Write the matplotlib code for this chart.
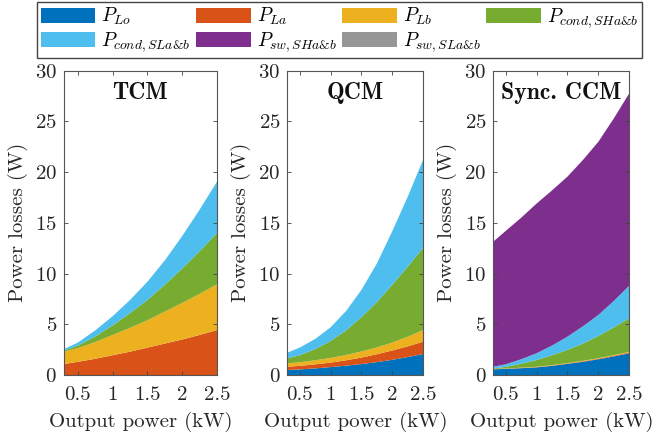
import numpy as np
import matplotlib
matplotlib.use("Agg")
import matplotlib.pyplot as plt
from matplotlib.patches import Patch

plt.rcParams['font.family'] = ['cmr10', 'DejaVu Serif']
plt.rcParams['mathtext.fontset'] = 'cm'
plt.rcParams['axes.unicode_minus'] = False
plt.rcParams['axes.formatter.use_mathtext'] = True

# Output power (kW)
power = [0.3, 0.5, 0.75, 1.0, 1.25, 1.5, 1.75, 2.0, 2.25, 2.5]

series_labels = [r'$P_{Lo}$', r'$P_{La}$', r'$P_{Lb}$', r'$P_{cond,SHa&b}$',
                 r'$P_{cond,SLa&b}$', r'$P_{sw,SHa&b}$', r'$P_{sw,SLa&b}$']
colors = ['#0072BD', '#D95319', '#EDB120', '#77AC30', '#4DBEEE', '#7E2F8E', '#969696']

# Cumulative tops of the stacked areas (W), in stacking order
tcm_Lo       = [0, 0, 0, 0, 0, 0, 0, 0, 0, 0]
tcm_La       = [1.08, 1.3, 1.6, 1.95, 2.3, 2.7, 3.1, 3.5, 3.95, 4.43]
tcm_Lb       = [2.3, 2.65, 3.25, 3.95, 4.65, 5.4, 6.25, 7.1, 8.0, 8.94]
tcm_condSH   = [2.4, 2.9, 3.8, 4.9, 6.1, 7.4, 8.9, 10.5, 12.2, 14.0]
tcm_condSL   = [2.55, 3.2, 4.4, 5.8, 7.4, 9.2, 11.3, 13.7, 16.3, 19.06]
tcm_swSH     = tcm_condSL
tcm_swSL     = tcm_condSL

qcm_Lo       = [0.49, 0.55, 0.65, 0.78, 0.92, 1.08, 1.27, 1.5, 1.77, 2.07]
qcm_La       = [0.82, 0.9, 1.05, 1.22, 1.45, 1.72, 2.05, 2.42, 2.83, 3.29]
qcm_Lb       = [1.15, 1.25, 1.45, 1.68, 1.97, 2.32, 2.72, 3.2, 3.78, 4.43]
qcm_condSH   = [1.64, 1.95, 2.55, 3.35, 4.4, 5.7, 7.2, 8.9, 10.7, 12.56]
qcm_condSL   = [2.2, 2.7, 3.55, 4.7, 6.3, 8.4, 11.0, 14.2, 17.6, 21.27]
qcm_swSH     = qcm_condSL
qcm_swSL     = qcm_condSL

ccm_Lo       = [0.56, 0.6, 0.67, 0.75, 0.9, 1.1, 1.3, 1.55, 1.83, 2.14]
ccm_La       = [0.58, 0.62, 0.69, 0.78, 0.93, 1.14, 1.35, 1.61, 1.9, 2.22]
ccm_Lb       = [0.6, 0.64, 0.72, 0.81, 0.97, 1.18, 1.4, 1.66, 1.96, 2.28]
ccm_condSH   = [0.65, 0.8, 1.1, 1.48, 1.95, 2.47, 3.1, 3.85, 4.7, 5.59]
ccm_condSL   = [0.82, 1.05, 1.55, 2.14, 2.9, 3.78, 4.8, 5.92, 7.3, 8.81]
ccm_swSH     = [13.15, 14.2, 15.5, 16.9, 18.2, 19.56, 21.2, 23.0, 25.3, 27.78]
ccm_swSL     = ccm_swSH

panels = [
    ('TCM', [tcm_Lo, tcm_La, tcm_Lb, tcm_condSH, tcm_condSL, tcm_swSH, tcm_swSL]),
    ('QCM', [qcm_Lo, qcm_La, qcm_Lb, qcm_condSH, qcm_condSL, qcm_swSH, qcm_swSL]),
    ('Sync. CCM', [ccm_Lo, ccm_La, ccm_Lb, ccm_condSH, ccm_condSL, ccm_swSH, ccm_swSL]),
]

x_ticks = [0.5, 1, 1.5, 2, 2.5]
x_tick_labels = ['0.5', '1', '1.5', '2', '2.5']
y_ticks = [0, 5, 10, 15, 20, 25, 30]

W, H = 656, 438
fig = plt.figure(figsize=(W / 100, H / 100), dpi=100)

axes_px = [(64, 153), (287.3, 136), (493.3, 136)]
bottom_px, top_px = 375, 70.7

for (title, cums), (lpx, wpx) in zip(panels, axes_px):
    ax = fig.add_axes([lpx / W, (H - bottom_px) / H, wpx / W, (bottom_px - top_px) / H])
    cum = np.array(cums, dtype=float)
    comps = np.diff(np.vstack([np.zeros(len(power)), cum]), axis=0)
    comps = np.clip(comps, 0, None)
    ax.stackplot(power, comps, colors=colors, linewidth=0)
    ax.set_xlim(0.3, 2.5)
    ax.set_ylim(0, 30)
    ax.set_xticks(x_ticks)
    ax.set_xticklabels(x_tick_labels)
    ax.set_yticks(y_ticks)
    ax.tick_params(direction='in', top=True, right=True, length=3, width=0.6,
                   labelsize=15, colors='#404040', labelcolor='#262626')
    ax.tick_params(axis='x', pad=8)
    ax.tick_params(axis='y', pad=5)
    for s in ax.spines.values():
        s.set_color('#555555')
        s.set_linewidth(0.8)
    ax.set_xlabel('Output power (kW)', fontsize=15, color='#262626', labelpad=6)
    ax.set_ylabel('Power losses (W)', fontsize=15, color='#262626', labelpad=5)
    ax.text(0.5, (bottom_px - 93) / (bottom_px - top_px), title, transform=ax.transAxes,
            ha='center', va='center', fontsize=17, family='cmb10', color='#111111')

# legend filled row by row (matplotlib fills columns first)
order = [0, 4, 1, 5, 2, 6, 3]
handles = [Patch(facecolor=colors[i], edgecolor='none') for i in order]
labels = [series_labels[i] for i in order]
leg = fig.legend(handles, labels, ncol=4, mode='expand',
                 bbox_to_anchor=(37 / W, (H - 53) / H, 605 / W, 51 / H),
                 loc='upper left', fontsize=14, handlelength=2.8, handleheight=0.8,
                 handletextpad=0.3, borderaxespad=0, fancybox=False,
                 edgecolor='#444444', framealpha=1, labelspacing=0.15,
                 borderpad=0.2)
leg.get_frame().set_linewidth(1.0)

fig.savefig('out.png', dpi=100)
